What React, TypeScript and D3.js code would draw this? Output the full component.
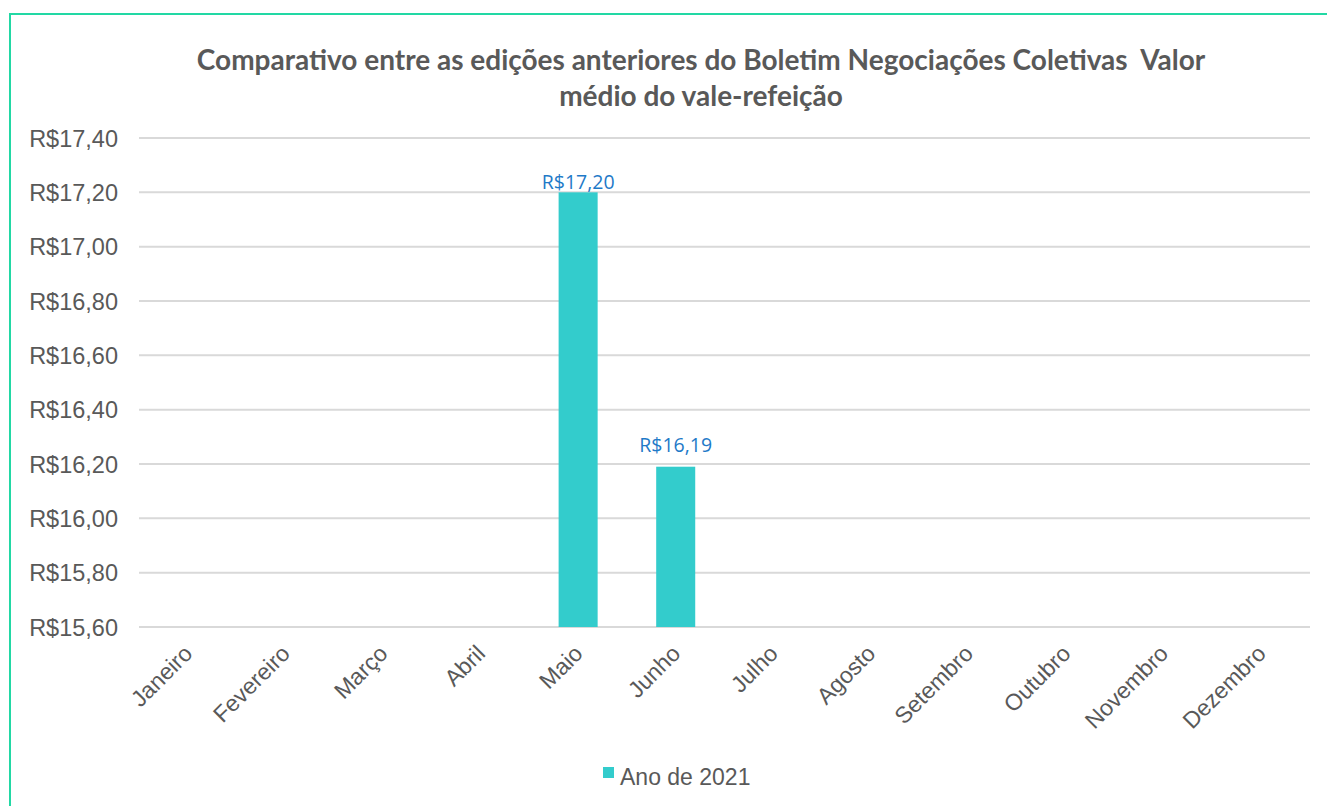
import React from "react";
import * as d3 from "d3";

const months = ["Janeiro","Fevereiro","Março","Abril","Maio","Junho","Julho","Agosto","Setembro","Outubro","Novembro","Dezembro"];
const values: (number | null)[] = [null,null,null,null,17.20,16.19,null,null,null,null,null,null];
const yTicks = [15.6,15.8,16.0,16.2,16.4,16.6,16.8,17.0,17.2,17.4];
const titleLines = ["Comparativo entre as edições anteriores do Boletim Negociações Coletivas  Valor","médio do vale-refeição"];
const seriesName = "Ano de 2021";

const W = 1327, H = 806;
const plot = { left: 139, right: 1310, top: 138, bottom: 627 };
const fmt = (v: number) => "R$" + v.toFixed(2).replace(".", ",");

export default function App() {
  const x = d3.scaleBand<string>().domain(months).range([plot.left, plot.right]).paddingInner(0.6).paddingOuter(0.3);
  const y = d3.scaleLinear().domain([15.6, 17.4]).range([plot.bottom, plot.top]);
  const maxV = d3.max(values.filter((v): v is number => v != null)) as number;
  const grey = "#595959";
  return (
    <svg width={W} height={H} style={{ position: "absolute", left: 0, top: 0, background: "#fff" }}>
      <rect x={10} y={14} width={W + 20} height={H + 20} fill="#fff" stroke="#22d8a4" strokeWidth={2} />
      {titleLines.map((t, i) => (
        <text key={i} x={701} y={70 + i * 36} textAnchor="middle" style={{ whiteSpace: "pre" }} fontFamily="Lato, 'Open Sans', sans-serif" fontWeight="bold" fontSize={28} fill={grey}>{t}</text>
      ))}
      {yTicks.map((t) => (
        <g key={t}>
          <line x1={plot.left} x2={plot.right} y1={y(t)} y2={y(t)} stroke="#d9d9d9" strokeWidth={2} />
          <text x={118} y={y(t) + 8.5} textAnchor="end" fontFamily="'Liberation Sans', Arial, sans-serif" fontSize={23.5} fill={grey}>{fmt(t)}</text>
        </g>
      ))}
      {months.map((m, i) => {
        const v = values[i];
        const cx = (x(m) as number) + x.bandwidth() / 2;
        return (
          <g key={m}>
            {v != null && (
              <>
                <rect x={x(m)} y={y(v)} width={x.bandwidth()} height={plot.bottom - y(v)} fill="#33cccc" />
                <text x={cx} y={y(v) - (v === maxV ? 3 : 15)} textAnchor="middle" fontFamily="'Open Sans', Lato, sans-serif" fontSize={19.5} fill="#1f7ac8">{fmt(v)}</text>
              </>
            )}
            <text transform={`translate(${cx + 6},${plot.bottom + 28}) rotate(-45)`} textAnchor="end" fontFamily="'Liberation Sans', Arial, sans-serif" fontSize={23} fill={grey}>{m}</text>
          </g>
        );
      })}
      <rect x={603} y={767} width={11} height={11} fill="#33cccc" />
      <text x={620} y={785} fontFamily="'Liberation Sans', Arial, sans-serif" fontSize={23} fill={grey}>{seriesName}</text>
    </svg>
  );
}
